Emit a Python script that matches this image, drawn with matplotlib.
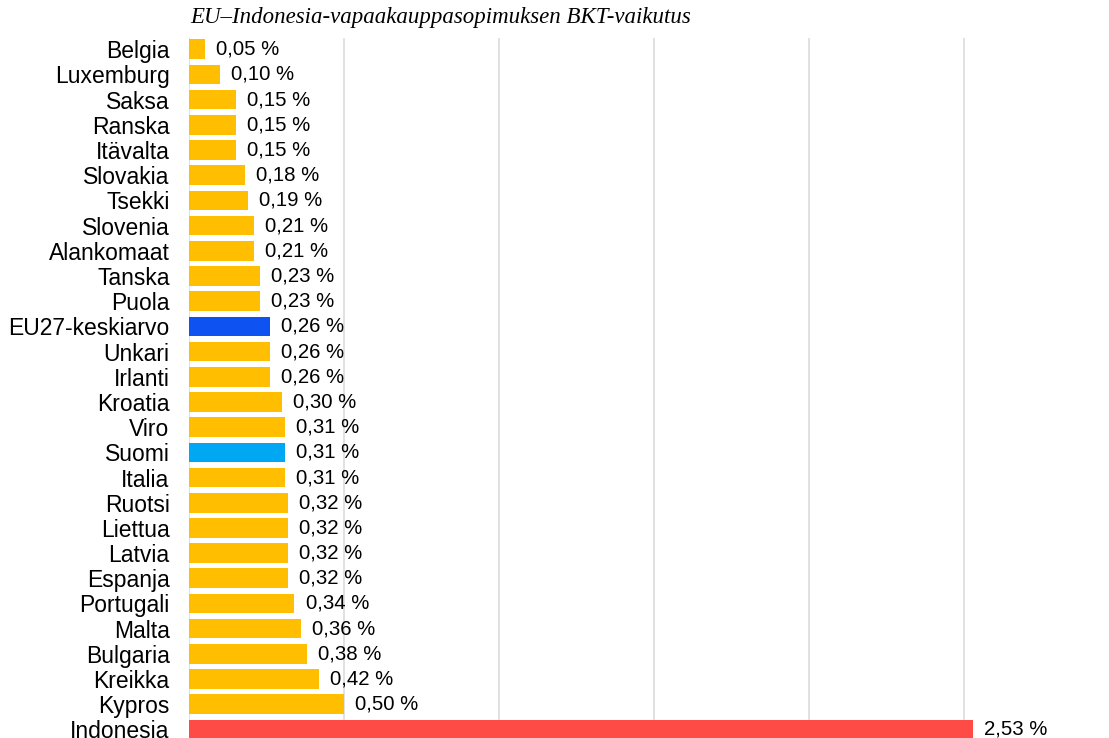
import matplotlib
matplotlib.use("Agg")
import matplotlib.pyplot as plt

countries = ["Belgia", "Luxemburg", "Saksa", "Ranska", "Itävalta", "Slovakia", "Tsekki",
             "Slovenia", "Alankomaat", "Tanska", "Puola", "EU27-keskiarvo", "Unkari", "Irlanti",
             "Kroatia", "Viro", "Suomi", "Italia", "Ruotsi", "Liettua", "Latvia", "Espanja",
             "Portugali", "Malta", "Bulgaria", "Kreikka", "Kypros", "Indonesia"]
values = [0.05, 0.10, 0.15, 0.15, 0.15, 0.18, 0.19, 0.21, 0.21, 0.23, 0.23, 0.26, 0.26, 0.26,
          0.30, 0.31, 0.31, 0.31, 0.32, 0.32, 0.32, 0.32, 0.34, 0.36, 0.38, 0.42, 0.50, 2.53]

YELLOW = "#FFBF00"
special = {"EU27-keskiarvo": "#0E52F2", "Suomi": "#00A8F3", "Indonesia": "#FF4B45"}
colors = [special.get(c, YELLOW) for c in countries]

plt.rcParams['font.family'] = ['Liberation Sans', 'DejaVu Sans']

W, H = 1109, 738
fig = plt.figure(figsize=(W / 100, H / 100), dpi=100)
left, right, top, bottom = 189, 1100, 38.2, 738
ax = fig.add_axes([left / W, 1 - bottom / H, (right - left) / W, (bottom - top) / H])

pos = list(range(len(countries)))
ax.barh(pos, values, height=0.78, color=colors, zorder=2)
ax.set_ylim(len(countries) - 1 + 0.34, -0.44)
ax.set_xlim(0, (right - left) / 310.0)
ax.set_yticks(pos)
ax.set_yticklabels(countries, fontsize=16.5)
ax.set_xticks([0, 0.5, 1.0, 1.5, 2.0, 2.5])
ax.tick_params(axis='x', bottom=False, labelbottom=False)
ax.tick_params(axis='y', length=0, pad=14)
ax.grid(axis='x', color='#dcdcdc', linewidth=1.2, zorder=0)
for s in ax.spines.values():
    s.set_visible(False)

for p, v in zip(pos, values):
    ax.annotate(f"{v:.2f} %".replace('.', ','), (v, p), xytext=(8, 0), textcoords='offset points',
                va='center', ha='left', fontsize=14.7)

fig.text(190 / W, 1 - 18 / H, "EU–Indonesia-vapaakauppasopimuksen BKT-vaikutus",
         family=['Liberation Serif'], style='italic', fontsize=16.5, va='center', ha='left')

fig.savefig("out.png", dpi=100)
